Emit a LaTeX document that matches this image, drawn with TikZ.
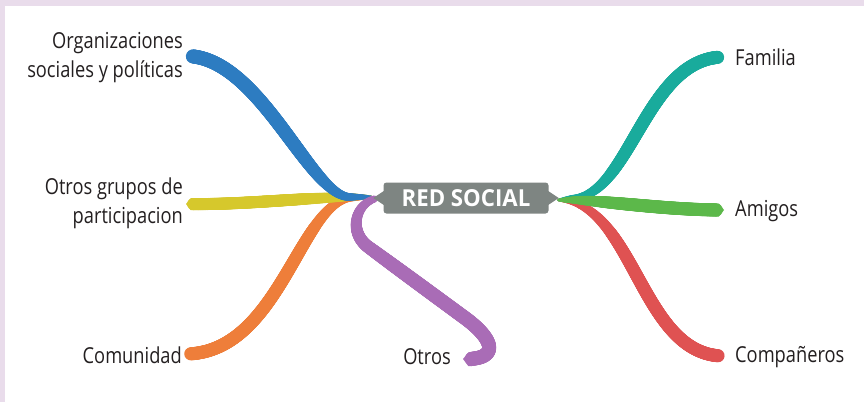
\documentclass[tikz,border=0pt]{standalone}
\usepackage{fontspec}
\setmainfont{Open Sans}[FakeStretch=0.83]
\newfontfamily\titlefont{Open Sans}[FakeStretch=0.95]
\usetikzlibrary{calc,decorations.markings}
\definecolor{lav}{HTML}{E9DCEB}
\definecolor{boxgray}{HTML}{7E8582}
\definecolor{cBlue}{HTML}{2D7CC1}
\definecolor{cYellow}{HTML}{D6C82C}
\definecolor{cOrange}{HTML}{EE7E3A}
\definecolor{cPurple}{HTML}{A96CB6}
\definecolor{cTeal}{HTML}{19AB9C}
\definecolor{cGreen}{HTML}{5CB84A}
\definecolor{cRed}{HTML}{DF5252}
\definecolor{txt}{HTML}{231F20}
\tikzset{
  branchbody/.style n args={4}{decorate, decoration={markings,
     mark=between positions 0 and 1 step 0.6pt with {%
       \pgfmathsetmacro\dd{\pgfkeysvalueof{/pgf/decoration/mark info/distance from start}}%
       \pgfmathsetmacro\ll{\pgfdecoratedpathlength}%
       \pgfmathsetmacro\ff{\dd/\ll}%
       \pgfmathsetmacro\rr{#3-(#3-#2)*(1-\ff)^6}%
       \pgfmathtruncatemacro\okk{\dd<(\ll-#4)?1:0}%
       \ifnum\okk=1 \fill[#1] (0pt,0pt) circle[radius=\rr pt];\fi}}},
  branchtip/.style n args={3}{decorate, decoration={markings,
     mark=at position 1 with {%
       \fill[#1] (-#3pt-0.6pt,-#2pt) -- (-0.8*#2pt,-#2pt) -- (0pt,0pt) -- (-0.8*#2pt,#2pt) -- (-#3pt-0.6pt,#2pt) -- cycle;}}},
  lbl/.style={inner sep=0pt, text=txt, font=\fontsize{22}{29}\selectfont},
  centerbox/.style={fill=boxgray, rounded corners=3pt, minimum width=165pt, minimum height=31pt,
     inner sep=0pt, text=white, font=\titlefont\bfseries\fontsize{23.4}{28}\selectfont}
}
% colour, start radius, end radius, tip length, path
\newcommand\mybranch[5]{%
  \path[branchbody={#1}{#2}{#3}{#4}] #5;
  \path[branchtip={#1}{#3}{#4}] #5;}
\begin{document}
\begin{tikzpicture}[x=1pt,y=-1pt]
  \fill[lav] (0,0) rectangle (864,402);
  \fill[white] (5,6) rectangle (864,402);
  \useasboundingbox (0,0) rectangle (864,402);

  % labels
  \node[lbl, anchor=east, align=right] (org) at (183,58) {Organizaciones\\sociales y políticas};
  \node[lbl, anchor=east, align=right] (otg) at (183,203) {Otros grupos de\\participacion};
  \node[lbl, anchor=east] (com) at (182,355) {Comunidad};
  \node[lbl] (otros) at (427,357) {Otros};
  \node[lbl, anchor=west] (fam) at (735,57) {Familia};
  \node[lbl, anchor=west] (ami) at (735,211) {Amigos};
  \node[lbl, anchor=west] (comp) at (735,357) {Compañeros};

  % central node
  \node[centerbox] (rs) at (466,198) {RED SOCIAL};

  % hubs and ends
  \coordinate (hubL) at ($(rs.west)+(-12,-1)$);
  \coordinate (hubR) at ($(rs.east)+(10,2)$);
  \coordinate (pStart) at ($(rs.west)+(-9,1)$);
  \coordinate (eOrg) at (186,56);
  \coordinate (eOtg) at (186,204);
  \coordinate (eCom) at (185,354);
  \coordinate (eOtros) at (463,359);
  \coordinate (eFam) at (724,57);
  \coordinate (eAmi) at (724,210);
  \coordinate (eComp) at (724,356);

  % left branches
  \mybranch{cOrange}{1.5}{6.5}{8}{(hubL) -- (352,198) .. controls (300,200) and (280,354) .. (eCom)}
  \mybranch{cYellow}{1.5}{6}{7.5}{(hubL) -- (350,197) .. controls (300,198) and (240,205) .. (eOtg)}
  \mybranch{cBlue}{1.5}{7}{8.5}{(hubL) -- (350,197) .. controls (310,197) and (260,56) .. (eOrg)}
  \mybranch{cPurple}{3.5}{7}{8.5}{(pStart) .. controls (355,205) and (349,231) .. (367,246)
        -- (465,318) .. controls (495,340) and (500,360) .. (eOtros)}

  % right branches
  \mybranch{cRed}{1.5}{6.5}{8}{(hubR) .. controls (635,202) and (640,356) .. (eComp)}
  \mybranch{cTeal}{1.5}{6.5}{8}{(hubR) -- (572,198) .. controls (630,198) and (645,57) .. (eFam)}
  \mybranch{cGreen}{1.5}{6.5}{8}{(hubR) -- (575,200) .. controls (615,202) and (670,210) .. (eAmi)}

  % notches of the central node (over the branch roots)
  \fill[boxgray] ($(rs.west)+(0.5,-7)$) -- ($(rs.west)+(-10,0)$) -- ($(rs.west)+(0.5,7)$) -- cycle;
  \fill[boxgray] ($(rs.east)+(-0.5,-7)$) -- ($(rs.east)+(10,0)$) -- ($(rs.east)+(-0.5,7)$) -- cycle;
\end{tikzpicture}
\end{document}
